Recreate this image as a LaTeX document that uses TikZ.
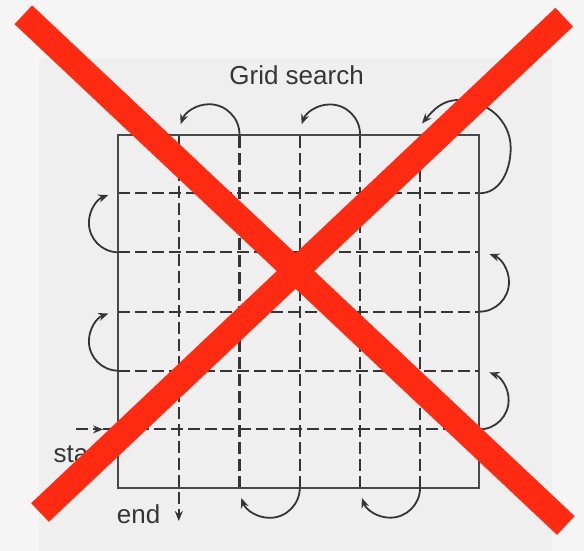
\documentclass[tikz,border=0pt]{standalone}
\usepackage{fontspec}
\setmainfont{Liberation Sans}
\usetikzlibrary{arrows.meta}
\definecolor{outbg}{HTML}{F5F5F5}
\definecolor{paper}{HTML}{EFEFEF}
\definecolor{ink}{HTML}{353535}
\definecolor{xred}{RGB}{255,42,18}
\begin{document}
\begin{tikzpicture}[x=1pt,y=1pt,
  solidline/.style={draw=ink!90, line width=2pt},
  dashline/.style={draw=ink, line width=2.1pt, dash pattern=on 12pt off 5pt},
  loopline/.style={draw=ink, line width=1.8pt, -{Stealth[length=10pt,width=8pt]}},
  lbl/.style={text=ink, font=\fontsize{26}{30}\selectfont, inner sep=0pt},
  redx/.style={draw=xred, line width=25.7pt}]
\useasboundingbox (0,0) rectangle (584,551);
\fill[outbg] (0,0) rectangle (584,551);
\fill[paper] (38.5,0) rectangle (551.5,493);
% key coordinates
\coordinate (sw) at (118.4,63.3);
\coordinate (ne) at (479.3,416.4);
% dashed columns
\foreach \x in {239.5,299.8,360.1,420.1}
  \draw[dashline] (\x,63.3) -- (\x,416.4);
\coordinate (c1top) at (178.8,416.4);
\coordinate (endtip) at (178.8,30);
\draw[dashline,-{Stealth[length=10pt,width=8pt]}] (c1top) -- (endtip);
% dashed rows
\foreach \y in {357.7,298.7,239.3,180.3}
  \draw[dashline] (118.4,\y) -- (479.3,\y);
\coordinate (startpt) at (76,121.6);
\coordinate (startarr) at (103,121.6);
\coordinate (r5right) at (479.3,121.6);
\draw[dashline,-{Stealth[length=10pt,width=8pt]}] (startpt) -- (startarr);
\draw[dashline] (startarr) -- (r5right);
% square
\draw[solidline] (sw) rectangle (ne);
% right loops
\draw[loopline] (479.3,121.6) arc[start angle=-90,end angle=70,radius=29.35];
\draw[loopline] (479.3,239.3) arc[start angle=-90,end angle=70,radius=29.7];
% left loops
\draw[loopline] (118.4,180.3) arc[start angle=-90,end angle=-250,radius=29.5];
\draw[loopline] (118.4,298.7) arc[start angle=-90,end angle=-250,radius=29.5];
% big top-right loop
\coordinate (r1right) at (479.3,357.7);
\coordinate (bigR) at (510.7,403);
\coordinate (bigT) at (459,451);
\coordinate (bigEnd) at (422,427.5);
\draw[loopline] (r1right) to[out=0,in=-90] (bigR) to[out=90,in=0] (bigT) to[out=180,in=50] (bigEnd);
% top loops
\draw[loopline] (239.5,416.4) arc[start angle=0,end angle=160,radius=30.35];
\draw[loopline] (360.1,416.4) arc[start angle=0,end angle=160,radius=30.15];
% bottom loops
\draw[loopline] (299.8,63.3) arc[start angle=0,end angle=-160,radius=30.15];
\draw[loopline] (420.1,63.3) arc[start angle=0,end angle=-160,radius=30];
% labels
\node[lbl, anchor=base] (title) at (296.6,466) {Grid search};
\node[lbl, anchor=base west] (startlbl) at (53.5,88.3) {start};
\node[lbl, anchor=base west] (endlbl) at (116.7,27.5) {end};
% red X
\coordinate (xa1) at (23.3,536.2);
\coordinate (xa2) at (565.8,25.5);
\coordinate (xb1) at (564.2,533.8);
\coordinate (xb2) at (40,38.5);
\draw[redx] (xa1) -- (xa2);
\draw[redx] (xb1) -- (xb2);
\end{tikzpicture}
\end{document}
